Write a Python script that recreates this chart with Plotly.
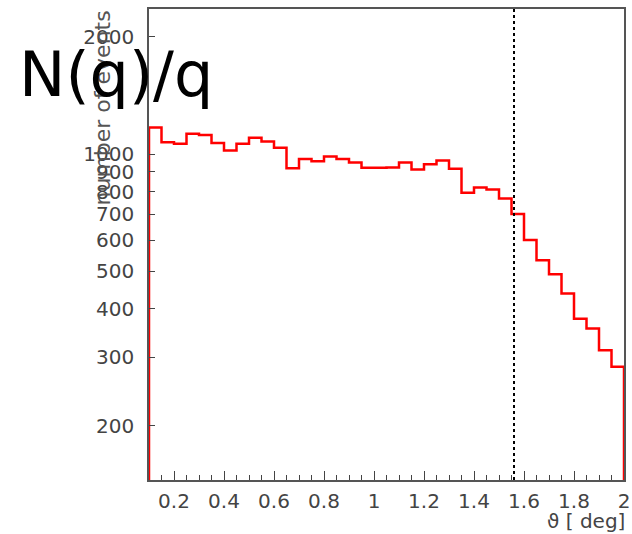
import plotly.graph_objects as go

# ---- data ----
bin_width = 0.05
x_start = 0.10
counts = [1171, 1073, 1063, 1128, 1119, 1067, 1022, 1063, 1101, 1078,
          1038, 919, 971, 958, 986, 971, 952, 922, 922, 924,
          952, 913, 941, 963, 917, 795, 821, 811, 769, 701,
          601, 533, 491, 438, 377, 356, 313, 284]
cut_theta = 1.56
y_tick_vals = [200, 300, 400, 500, 600, 700, 800, 900, 1000, 2000]
y_tick_text = ["200", "300", "400", "500", "600", "700", "800", "900", "1000", "2000"]
x_tick_vals = [0.2, 0.4, 0.6, 0.8, 1.0, 1.2, 1.4, 1.6, 1.8, 2.0]
x_tick_text = ["0.2", "0.4", "0.6", "0.8", "1", "1.2", "1.4", "1.6", "1.8", "2"]
title_text = "N(q)/q"
y_title = "number of events"
x_title = "ϑ [ deg]"

floor_val = 100
edges = [x_start + i * bin_width for i in range(len(counts) + 1)]
xs = [edges[0]] + edges[:-1] + [edges[-1], edges[-1]]
ys = [floor_val] + counts + [counts[-1], floor_val]

W, H = 632, 534
ml, mr, mt, mb = 149, 8, 9, 54

fig = go.Figure()
fig.add_trace(go.Scatter(x=xs, y=ys, mode="lines", line=dict(color="#ff0000", width=2.5, shape="hv"),
                         showlegend=False, hoverinfo="skip"))

fig.add_shape(type="line", xref="x", yref="paper", x0=cut_theta, x1=cut_theta, y0=0, y1=1,
              line=dict(color="black", width=2, dash="dot"))

font_axis = dict(family="DejaVu Sans", size=20, color="#444444")

fig.update_layout(
    width=W, height=H,
    margin=dict(l=ml, r=mr, t=mt, b=mb, autoexpand=False),
    paper_bgcolor="white", plot_bgcolor="white",
    xaxis=dict(range=[0.1, 2.0], tickvals=x_tick_vals, ticktext=x_tick_text,
               ticks="inside", ticklen=9, tickcolor="#444", tickwidth=1,
               minor=dict(dtick=0.05, tick0=0, ticks="inside", ticklen=5, tickcolor="#444"),
               showgrid=False, zeroline=False, showline=True, linecolor="#555", linewidth=1.5,
               mirror=True, tickfont=font_axis, ticklabelstandoff=2, automargin=False),
    yaxis=dict(type="log", range=[2.162, 3.373], tickvals=y_tick_vals, ticktext=y_tick_text,
               ticks="inside", ticklen=6, tickcolor="#444", tickwidth=1,
               showgrid=False, zeroline=False, showline=True, linecolor="#555", linewidth=1.5,
               mirror=True, tickfont=font_axis, ticklabelstandoff=9, automargin=False),
)

ph = H - mt - mb
pw = W - ml - mr

def px_to_paper_x(px):
    return (px - ml) / pw

def px_to_paper_y(py):
    return 1 - (py - mt) / ph

fig.add_annotation(text=y_title, textangle=-90, xref="paper", yref="paper",
                   x=px_to_paper_x(102), y=px_to_paper_y(9), xanchor="center", yanchor="top",
                   showarrow=False, font=dict(family="DejaVu Sans", size=22, color="#555555"))
fig.add_annotation(text=x_title, xref="paper", yref="paper",
                   x=px_to_paper_x(627), y=px_to_paper_y(521), xanchor="right", yanchor="middle",
                   showarrow=False, font=dict(family="DejaVu Sans", size=20, color="#444444"))
fig.add_annotation(text=title_text, xref="paper", yref="paper",
                   x=px_to_paper_x(17), y=px_to_paper_y(75), xanchor="left", yanchor="middle",
                   showarrow=False, font=dict(family="DejaVu Sans", size=62, color="black"))

fig.write_html("out.html", config={"displayModeBar": False},
               post_script="document.body.style.margin='0';")
